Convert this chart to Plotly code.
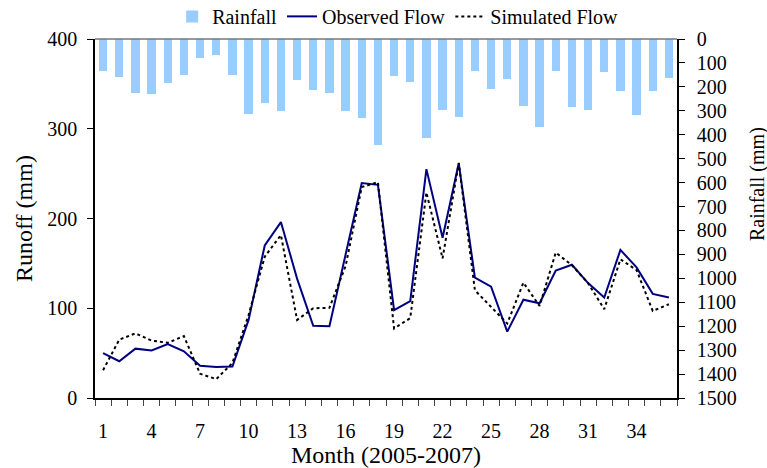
import plotly.graph_objects as go

months = list(range(1, 37))
rainfall = [132, 157, 224, 231, 182, 152, 79, 68, 152, 315, 267, 301,
            171, 212, 227, 301, 332, 444, 156, 181, 412, 295, 327, 135,
            208, 166, 280, 366, 132, 285, 295, 137, 219, 319, 216, 163]
observed = [50, 41, 55, 53, 60, 52, 36, 34.5, 35, 87, 170, 196,
            133, 80.5, 80, 160, 239.5, 237.5, 98, 108, 255, 178.5, 261.5, 134,
            124, 74, 109.5, 105.5, 142, 148.5, 128, 112, 165, 145.5, 116, 112]
simulated = [31, 65, 72, 64, 61.5, 69, 27, 21, 39, 92.5, 157.5, 181.5,
             87, 100, 100.5, 147, 235, 240.5, 77.5, 89, 229, 155.5, 262, 120,
             101.5, 83, 128.5, 102.5, 162, 148, 128, 99, 154.5, 142.5, 97, 104.5]

runoff_ticks = [0, 100, 200, 300, 400]
rain_ticks = list(range(0, 1600, 100))
month_ticks = list(range(1, 37, 3))
month_bounds = [m - 0.5 for m in range(1, 38)]

FONT = "Liberation Serif, Times New Roman, serif"

fig = go.Figure()
fig.add_trace(go.Bar(x=months, y=rainfall, name="Rainfall", yaxis="y2",
                     marker=dict(color="#99CCFF", line=dict(width=0)), width=0.52))
fig.add_trace(go.Scatter(x=months, y=observed, name="Observed Flow", mode="lines",
                         line=dict(color="#000080", width=2)))
fig.add_trace(go.Scatter(x=months, y=simulated, name="Simulated Flow", mode="lines",
                         line=dict(color="black", width=2, dash="3px,3px")))

fig.update_layout(
    width=767, height=468,
    margin=dict(l=95, r=90, t=39, b=70, autoexpand=False),
    paper_bgcolor="white", plot_bgcolor="white",
    font=dict(family=FONT, size=20, color="black"),
    showlegend=True,
    legend=dict(orientation="h", x=0.52, xanchor="center", y=1.063, yanchor="middle",
                font=dict(size=20), bgcolor="rgba(0,0,0,0)", itemwidth=30,
                traceorder="normal"),
    bargap=0,
    xaxis=dict(range=[0.5, 36.5], tickmode="array", tickvals=month_ticks,
               ticks="", showline=True, linecolor="black", linewidth=1.5,
               showgrid=False, zeroline=False, ticklabelstandoff=14,
               minor=dict(tickmode="array", tickvals=month_bounds, ticks="outside",
                          ticklen=6, tickcolor="#444", tickwidth=1, showgrid=False),
               title=dict(text="Month (2005-2007)", standoff=0)),
    yaxis=dict(range=[0, 400], tickmode="array", tickvals=runoff_ticks,
               ticks="outside", ticklen=6, tickcolor="black", showline=True,
               linecolor="black", linewidth=1.5, showgrid=False, zeroline=False,
               ticklabelstandoff=6,
               title=dict(text="Runoff (mm)", standoff=8)),
    yaxis2=dict(range=[1500, 0], overlaying="y", side="right", tickmode="array",
                tickvals=rain_ticks, ticks="outside", ticklen=6, tickcolor="black",
                showline=True, linecolor="black", linewidth=1.5, showgrid=False,
                zeroline=False, ticklabelstandoff=8),
    annotations=[dict(text="Rainfall (mm)", textangle=-90, xref="paper", yref="paper",
                      x=1.1375, y=0.596, xanchor="center", yanchor="middle",
                      showarrow=False, font=dict(size=20))],
    shapes=[dict(type="line", xref="paper", yref="paper", x0=0, x1=1, y0=1, y1=1,
                 line=dict(color="#777777", width=1.5))],
)

fig.write_html("out.html")
